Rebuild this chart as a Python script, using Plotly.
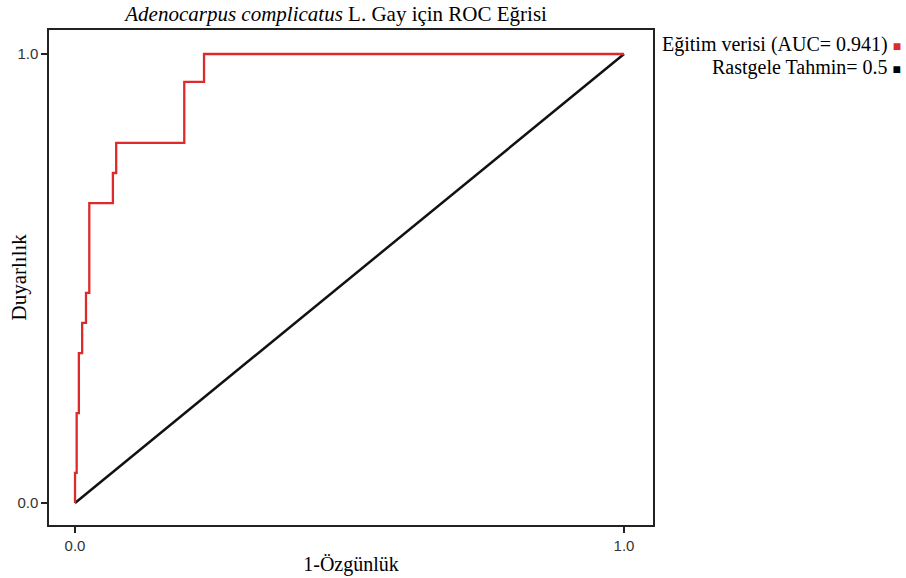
import plotly.graph_objects as go

# ROC data (1-specificity, sensitivity)
fpr = [0, 0, 0.003, 0.003, 0.007, 0.007, 0.013, 0.013, 0.020, 0.020, 0.026, 0.026,
       0.069, 0.069, 0.075, 0.075, 0.199, 0.199, 0.235, 0.235, 1.0]
tpr = [0, 0.067, 0.067, 0.200, 0.200, 0.334, 0.334, 0.401, 0.401, 0.468, 0.468, 0.668,
       0.668, 0.735, 0.735, 0.802, 0.802, 0.938, 0.938, 1.0, 1.0]
rand_x = [0, 1]
rand_y = [0, 1]
auc_train = 0.941
auc_rand = 0.5
tick_vals = [0, 1]
tick_text = ["0.0", "1.0"]

serif = "Liberation Serif, Times New Roman, serif"
sans = "Liberation Sans, Arial, sans-serif"

fig = go.Figure()
fig.add_trace(go.Scatter(x=rand_x, y=rand_y, mode="lines",
                         line=dict(color="#111111", width=2.5), showlegend=False))
fig.add_trace(go.Scatter(x=fpr, y=tpr, mode="lines",
                         line=dict(color="#dd2a2a", width=2.3), showlegend=False))

fig.add_annotation(xref="paper", yref="paper", x=1.414, y=0.97, xanchor="right", yanchor="middle",
                   showarrow=False, align="right",
                   text=f"Eğitim verisi (AUC= {auc_train}) <span style='color:#dd2a2a;font-size:14px'>■</span>",
                   font=dict(family=serif, size=20, color="#000"))
fig.add_annotation(xref="paper", yref="paper", x=1.414, y=0.925, xanchor="right", yanchor="middle",
                   showarrow=False, align="right",
                   text=f"Rastgele Tahmin= {auc_rand} <span style='color:#000;font-size:14px'>■</span>",
                   font=dict(family=serif, size=20, color="#000"))
# y-axis title placed as an annotation to match the reference position
fig.add_annotation(xref="paper", yref="paper", x=-0.0513, y=0.5, xanchor="center", yanchor="middle",
                   showarrow=False, textangle=-90, text="Duyarlılık",
                   font=dict(family=serif, size=21, color="#000"))

fig.update_layout(
    width=906, height=578,
    margin=dict(l=49, r=253, t=30, b=53, autoexpand=False),
    paper_bgcolor="white", plot_bgcolor="white",
    title=dict(text="<i>Adenocarpus complicatus</i> L. Gay için ROC Eğrisi",
               x=0.371, xanchor="center", y=0.976, yanchor="middle",
               font=dict(family=serif, size=21, color="#000")),
    xaxis=dict(range=[-0.0474, 1.0528], tickvals=tick_vals, ticktext=tick_text, automargin=False,
               showgrid=False, zeroline=False, showline=True, linecolor="#222", linewidth=1.5,
               mirror=True, ticks="outside", ticklen=6, tickcolor="#222", tickwidth=1.5,
               tickfont=dict(family=sans, size=15, color="#333"),
               title=dict(text="1-Özgünlük", font=dict(family=serif, size=20, color="#000"), standoff=4)),
    yaxis=dict(range=[-0.049, 1.0535], tickvals=tick_vals, ticktext=tick_text, automargin=False,
               showgrid=False, zeroline=False, showline=True, linecolor="#222", linewidth=1.5,
               mirror=True, ticks="outside", ticklen=6, tickcolor="#222", tickwidth=1.5,
               tickfont=dict(family=sans, size=15, color="#333")),
)

fig.write_html("out.html", config={"displayModeBar": False},
               post_script="document.body.style.margin='0';document.body.style.overflow='hidden';")
